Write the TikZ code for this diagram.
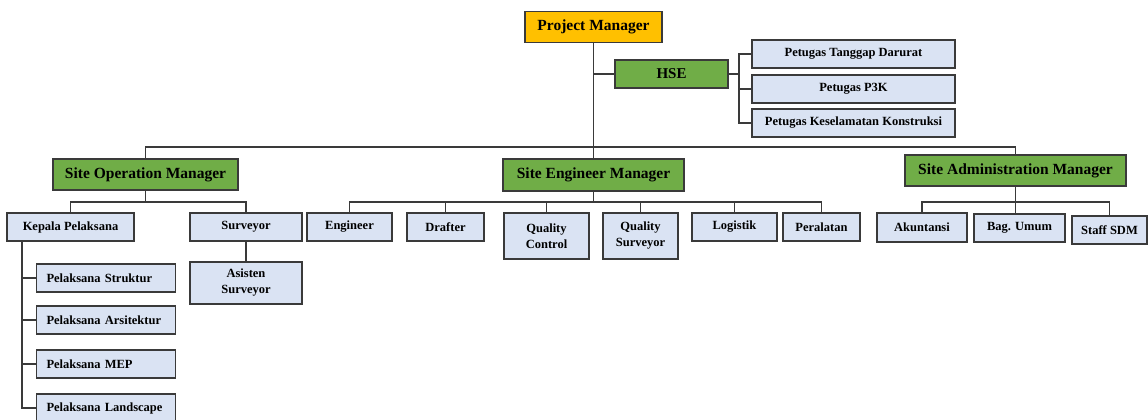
\documentclass[tikz,border=0pt]{standalone}
\usepackage{fontspec}
\setmainfont{Liberation Serif}
\definecolor{gold}{HTML}{FFC000}
\definecolor{leaf}{HTML}{70AD47}
\definecolor{pale}{HTML}{DAE3F3}
\definecolor{edge}{HTML}{3A3A3A}
\begin{document}
\begin{tikzpicture}[x=1pt,y=-1pt,
  base/.style={draw=edge,line width=1.3pt,inner sep=1pt,align=center,text=black},
  mgr/.style={base,fill=leaf,font=\fontsize{15.5}{17}\selectfont\bfseries},
  top/.style={base,fill=gold,font=\fontsize{15.5}{17}\selectfont\bfseries},
  unit/.style={base,fill=pale,font=\fontsize{12.5}{16}\selectfont\bfseries},
  leftunit/.style={unit,align=left,inner xsep=10pt,text width=119pt,minimum height=28pt},
  link/.style={draw=edge,line width=1.2pt}]
\useasboundingbox (0,0) rectangle (1148,420);
% top
\node[top,minimum width=137pt,minimum height=31pt] (pm) at (593.5,27) {Project Manager};
\node[mgr,minimum width=113pt,minimum height=28pt,font=\fontsize{15}{17}\selectfont\bfseries] (hse) at (671.5,74) {HSE};
\node[unit,minimum width=203pt,minimum height=28pt] (ptd) at (853.5,54) {Petugas Tanggap Darurat};
\node[unit,minimum width=203pt,minimum height=28pt] (p3k) at (853.5,89) {Petugas P3K};
\node[unit,minimum width=203pt,minimum height=28pt] (pkk) at (853.5,123) {Petugas Keselamatan Konstruksi};
% managers
\node[mgr,minimum width=185pt,minimum height=31pt] (som) at (145.5,174.5) {Site Operation Manager};
\node[mgr,minimum width=181pt,minimum height=32pt] (sem) at (593.5,175) {Site Engineer Manager};
\node[mgr,minimum width=221pt,minimum height=31pt] (sam) at (1015.5,170.5) {Site Administration Manager};
% level 3
\node[unit,minimum width=127pt,minimum height=28pt] (kp) at (70.5,227) {Kepala Pelaksana};
\node[unit,minimum width=112pt,minimum height=28pt] (sv) at (246,227) {Surveyor};
\node[unit,minimum width=85pt,minimum height=28pt] (eng) at (349.5,227) {Engineer};
\node[unit,minimum width=77pt,minimum height=28pt] (dr) at (445.5,227) {Drafter};
\node[unit,minimum width=85pt,minimum height=46pt] (qc) at (546.5,236) {Quality\\Control};
\node[unit,minimum width=75pt,minimum height=46pt] (qs) at (640.5,236) {Quality\\Surveyor};
\node[unit,minimum width=85pt,minimum height=28pt] (lg) at (734.5,227) {Logistik};
\node[unit,minimum width=77pt,minimum height=28pt] (pr) at (821.5,227) {Peralatan};
\node[unit,minimum width=90pt,minimum height=29pt] (ak) at (922,227.5) {Akuntansi};
\node[unit,minimum width=91pt,minimum height=28pt] (bu) at (1019.5,228) {Bag. Umum};
\node[unit,minimum width=75pt,minimum height=28pt] (sd) at (1109.5,230) {Staff SDM};
% level 4
\node[unit,minimum width=112pt,minimum height=42pt] (as) at (246,283) {Asisten\\Surveyor};
\node[leftunit] (ps) at (106,278) {Pelaksana Struktur};
\node[leftunit] (pa) at (106,320) {Pelaksana Arsitektur};
\node[leftunit] (pmep) at (106,364) {Pelaksana MEP};
\node[leftunit] (pl) at (106,408) {Pelaksana Landscape};
% helper coordinates
\coordinate (bus) at (0,147);
\coordinate (sub) at (0,202);
\coordinate (hb) at (739,0);
\coordinate (kx) at (22,0);
% connectors
\draw[link] (pm.south) -- (sem.north);
\draw[link] (hse.west) -- (pm.south |- hse.west);
\draw[link] (hse.east) -- (hb |- hse.east);
\draw[link] (ptd.west) -| (hb |- pkk.west) -- (pkk.west);
\draw[link] (p3k.west) -- (hb |- p3k.west);
\draw[link] (som.north) |- (sam.north |- bus) -- (sam.north);
% SOM
\draw[link] (som.south) -- (som.south |- sub);
\draw[link] (kp.north) |- (sv.north |- sub) -- (sv.north);
\draw[link] (sv.south) -- (as.north);
\draw[link] (kp.south -| kx) |- (pl.west);
\draw[link] (ps.west) -- (kx |- ps.west);
\draw[link] (pa.west) -- (kx |- pa.west);
\draw[link] (pmep.west) -- (kx |- pmep.west);
% SEM
\draw[link] (sem.south) -- (sem.south |- sub);
\draw[link] (eng.north) |- (pr.north |- sub) -- (pr.north);
\draw[link] (dr.north) -- (dr.north |- sub);
\draw[link] (qc.north) -- (qc.north |- sub);
\draw[link] (qs.north) -- (qs.north |- sub);
\draw[link] (lg.north) -- (lg.north |- sub);
% SAM
\draw[link] (sam.south) -- (sam.south |- bu.north);
\draw[link] (ak.north) |- (sd.north |- sub) -- (sd.north);
\end{tikzpicture}
\end{document}
